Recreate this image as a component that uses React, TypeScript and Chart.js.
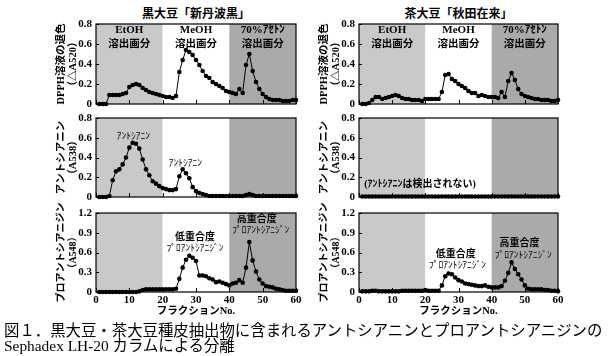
import React, { useEffect, useRef } from 'react';
import { Chart, registerables } from 'chart.js';

Chart.register(...registerables);

// ---------------- data ----------------
const FRACTIONS = [
  1, 2, 3, 4, 5, 6, 7, 8, 9, 10, 11, 12, 13, 14, 15, 16, 17, 18, 19, 20,
  21, 22, 23, 24, 25, 26, 27, 28, 29, 30, 31, 32, 33, 34, 35, 36, 37, 38, 39, 40,
  41, 42, 43, 44, 45, 46, 47, 48, 49, 50, 51, 52, 53, 54, 55, 56, 57, 58, 59, 60,
];
const X_TICKS = [0, 10, 20, 30, 40, 50, 60];
const Y_TICKS_DPPH = [0, 0.2, 0.4, 0.6, 0.8];
const Y_TICKS_ANTHO = [0, 0.2, 0.4, 0.6, 0.8];
const Y_TICKS_PRO = [0, 0.3, 0.6, 0.9, 1.2];
const ZONE_BOUNDS = [0, 20, 40, 60];

const COLUMN_TITLES = ['黒大豆「新丹波黒」', '茶大豆「秋田在来」'];
const ZONE_NAMES = ['EtOH', 'MeOH', '70%ｱｾﾄﾝ'];
const ZONE_SUFFIX = '溶出画分';
const Y_TITLE_DPPH = ['DPPH溶液の退色', '（△A520）'];
const Y_TITLE_ANTHO = ['アントシアニン', '（A538）'];
const Y_TITLE_PRO = ['プロアントシアニジン', '（A548）'];
const X_TITLE = 'フラクションNo.';
const CAPTION = [
  '図１．黒大豆・茶大豆種皮抽出物に含まれるアントシアニンとプロアントシアニジンの',
  'Sephadex LH-20 カラムによる分離',
];

const dpphBlack = [
  0, 0, 0, 0.09, 0.09, 0.09, 0.09, 0.1, 0.11, 0.17, 0.19, 0.2, 0.19, 0.16, 0.14, 0.12, 0.11, 0.1, 0.09, 0.08,
  0.07, 0.07, 0.06, 0.08, 0.32, 0.44, 0.54, 0.52, 0.49, 0.44, 0.39, 0.33, 0.28, 0.26, 0.22, 0.2, 0.18, 0.16, 0.13, 0.12,
  0.11, 0.1, 0.15, 0.11, 0.39, 0.5, 0.33, 0.22, 0.15, 0.1, 0.07, 0.05, 0.04, 0.04, 0.04, 0.03, 0.03, 0.03, 0.04, 0.04,
];
const dpphBrown = [
  0, 0, 0.01, 0.04, 0.07, 0.07, 0.05, 0.06, 0.07, 0.08, 0.09, 0.08, 0.06, 0.05, 0.05, 0.04, 0.04, 0.04, 0.03, 0.05,
  0.05, 0.05, 0.05, 0.05, 0.12, 0.29, 0.3, 0.25, 0.23, 0.2, 0.18, 0.16, 0.13, 0.11, 0.11, 0.08, 0.09, 0.08, 0.07, 0.07,
  0.07, 0.06, 0.12, 0.07, 0.23, 0.31, 0.24, 0.15, 0.1, 0.08, 0.07, 0.06, 0.05, 0.05, 0.04, 0.04, 0.04, 0.03, 0.03, 0.04,
];
const anthoBlack = [
  0, 0, 0, 0.01, 0.17, 0.26, 0.28, 0.33, 0.4, 0.5, 0.55, 0.54, 0.49, 0.38, 0.28, 0.22, 0.16, 0.135, 0.11, 0.09,
  0.08, 0.07, 0.07, 0.08, 0.21, 0.28, 0.24, 0.19, 0.1, 0.06, 0.04, 0.03, 0.02, 0.01, 0.01, 0.01, 0.01, 0.01, 0.01, 0.01,
  0.01, 0.01, 0.01, 0.01, 0.02, 0.03, 0.02, 0.01, 0.01, 0.01, 0.01, 0.01, 0.01, 0.01, 0.01, 0.01, 0.01, 0.01, 0.01, 0.01,
];
const anthoBrown = [
  0.005, 0.005, 0.005, 0.005, 0.005, 0.005, 0.005, 0.005, 0.005, 0.005, 0.005, 0.005, 0.005, 0.005, 0.005, 0.005, 0.005, 0.005, 0.005, 0.005,
  0.005, 0.005, 0.005, 0.005, 0.005, 0.005, 0.005, 0.005, 0.005, 0.005, 0.005, 0.005, 0.005, 0.005, 0.005, 0.005, 0.005, 0.005, 0.005, 0.005,
  0.005, 0.005, 0.005, 0.005, 0.005, 0.005, 0.005, 0.005, 0.005, 0.005, 0.005, 0.005, 0.005, 0.005, 0.005, 0.005, 0.005, 0.005, 0.005, 0.005,
];
const proBlack = [
  0, 0, 0, 0, 0, 0, 0, 0, 0, 0, 0, 0, 0.01, 0.03, 0.04, 0.04, 0.04, 0.04, 0.04, 0.04,
  0.04, 0.04, 0.04, 0.05, 0.2, 0.37, 0.49, 0.55, 0.52, 0.47, 0.25, 0.25, 0.24, 0.21, 0.19, 0.15, 0.16, 0.14, 0.12, 0.1,
  0.13, 0.14, 0.18, 0.14, 0.37, 0.76, 0.48, 0.31, 0.19, 0.13, 0.09, 0.08, 0.07, 0.05, 0.04, 0.03, 0.02, 0.02, 0.02, 0.02,
];
const proBrown = [
  0.01, 0.01, 0.01, 0.02, 0.02, 0.01, 0.01, 0.01, 0.01, 0.01, 0.01, 0.01, 0.02, 0.02, 0.02, 0.02, 0.02, 0.02, 0.02, 0.03,
  0.02, 0.02, 0.02, 0.02, 0.1, 0.24, 0.28, 0.27, 0.22, 0.18, 0.16, 0.13, 0.12, 0.11, 0.1, 0.09, 0.09, 0.1, 0.08, 0.07,
  0.07, 0.07, 0.09, 0.17, 0.29, 0.45, 0.35, 0.27, 0.19, 0.1, 0.05, 0.04, 0.04, 0.04, 0.04, 0.03, 0.03, 0.02, 0.02, 0.01,
];

// ---------------- styles / layout ----------------
const SERIF = "'Liberation Serif', 'Noto Sans CJK JP', serif";
const CJK = "'Noto Sans CJK JP', 'Liberation Serif', sans-serif";
const ZONE_COLORS = ['#c9c9c9', '#ffffff', '#aaaaaa'];
const COL_PLOT = [
  { left: 96, right: 296, x0: 0, w: 310 },
  { left: 359, right: 558, x0: 300, w: 309 },
];
const ROW_PLOT = [
  { top: 24, bottom: 104 },
  { top: 118, bottom: 197 },
  { top: 213, bottom: 292 },
];
const Y_TITLE_SIZE = [10.5, 10.5, 10];
const PAD_TOP = 12;

type Ann = { x: number; y: number; text: string; font: string };

const zoneAnns: Ann[] = [];
ZONE_NAMES.forEach((n, i) => {
  const cx = (ZONE_BOUNDS[i] + ZONE_BOUNDS[i + 1]) / 2;
  zoneAnns.push({ x: cx, y: 0.74, text: n, font: `bold 11px ${SERIF}` });
  zoneAnns.push({ x: cx, y: 0.6, text: ZONE_SUFFIX, font: `bold 10.5px ${SERIF}` });
});

const KANA_FONT = `9.5px ${CJK}`;
const LABEL_FONT = `bold 10px ${SERIF}`;

type Spec = {
  row: number;
  col: number;
  values: number[];
  yTicks: number[];
  yTitle: string[];
  anns: Ann[];
};

const SPECS: Spec[] = [
  { row: 0, col: 0, values: dpphBlack, yTicks: Y_TICKS_DPPH, yTitle: Y_TITLE_DPPH, anns: zoneAnns },
  { row: 0, col: 1, values: dpphBrown, yTicks: Y_TICKS_DPPH, yTitle: Y_TITLE_DPPH, anns: zoneAnns },
  {
    row: 1, col: 0, values: anthoBlack, yTicks: Y_TICKS_ANTHO, yTitle: Y_TITLE_ANTHO,
    anns: [
      { x: 11.2, y: 0.625, text: 'ｱﾝﾄｼｱﾆﾝ', font: KANA_FONT },
      { x: 26.8, y: 0.35, text: 'ｱﾝﾄｼｱﾆﾝ', font: KANA_FONT },
    ],
  },
  {
    row: 1, col: 1, values: anthoBrown, yTicks: Y_TICKS_ANTHO, yTitle: Y_TITLE_ANTHO,
    anns: [{ x: 18.4, y: 0.125, text: '(ｱﾝﾄｼｱﾆﾝは検出されない)', font: `bold 10px ${SERIF}` }],
  },
  {
    row: 2, col: 0, values: proBlack, yTicks: Y_TICKS_PRO, yTitle: Y_TITLE_PRO,
    anns: [
      { x: 29.7, y: 0.83, text: '低重合度', font: LABEL_FONT },
      { x: 29.7, y: 0.675, text: 'ﾌﾟﾛｱﾝﾄｼｱﾆｼﾞﾝ', font: KANA_FONT },
      { x: 48.2, y: 1.1, text: '高重合度', font: LABEL_FONT },
      { x: 49.4, y: 0.952, text: 'ﾌﾟﾛｱﾝﾄｼｱﾆｼﾞﾝ', font: KANA_FONT },
    ],
  },
  {
    row: 2, col: 1, values: proBrown, yTicks: Y_TICKS_PRO, yTitle: Y_TITLE_PRO,
    anns: [
      { x: 29.2, y: 0.57, text: '低重合度', font: LABEL_FONT },
      { x: 29.7, y: 0.416, text: 'ﾌﾟﾛｱﾝﾄｼｱﾆｼﾞﾝ', font: KANA_FONT },
      { x: 48.4, y: 0.732, text: '高重合度', font: LABEL_FONT },
      { x: 49.5, y: 0.577, text: 'ﾌﾟﾛｱﾝﾄｼｱﾆｼﾞﾝ', font: KANA_FONT },
    ],
  },
];

function makePlugin(spec: Spec, showX: boolean) {
  return {
    id: 'panelDecor',
    beforeDatasetsDraw(chart: any) {
      const { ctx, chartArea: a, scales } = chart;
      const x = scales.x;
      const y = scales.y;
      ctx.save();
      for (let i = 0; i < ZONE_BOUNDS.length - 1; i++) {
        const x1 = x.getPixelForValue(ZONE_BOUNDS[i]);
        const x2 = x.getPixelForValue(ZONE_BOUNDS[i + 1]);
        ctx.fillStyle = ZONE_COLORS[i];
        ctx.fillRect(x1, a.top, x2 - x1, a.bottom - a.top);
      }
      ctx.fillStyle = '#000';
      ctx.textAlign = 'center';
      ctx.textBaseline = 'middle';
      spec.anns.forEach((an) => {
        ctx.font = an.font;
        ctx.fillText(an.text, x.getPixelForValue(an.x), y.getPixelForValue(an.y));
      });
      ctx.restore();
    },
    afterDraw(chart: any) {
      const { ctx, chartArea: a, scales } = chart;
      const x = scales.x;
      const y = scales.y;
      ctx.save();
      ctx.strokeStyle = '#000';
      ctx.lineWidth = 1.2;
      ctx.strokeRect(a.left, a.top, a.right - a.left, a.bottom - a.top);
      ctx.lineWidth = 1;
      ctx.beginPath();
      X_TICKS.forEach((t) => {
        const px = Math.round(x.getPixelForValue(t)) + 0.5;
        ctx.moveTo(px, a.bottom);
        ctx.lineTo(px, a.bottom - 4);
      });
      spec.yTicks.forEach((t) => {
        const py = Math.round(y.getPixelForValue(t)) + 0.5;
        ctx.moveTo(a.left, py);
        ctx.lineTo(a.left + 3, py);
      });
      ctx.stroke();
      // y title
      ctx.fillStyle = '#000';
      ctx.textAlign = 'center';
      ctx.textBaseline = 'middle';
      ctx.font = `bold ${Y_TITLE_SIZE[spec.row]}px ${SERIF}`;
      ctx.translate(a.left - 35, (a.top + a.bottom) / 2);
      ctx.rotate(-Math.PI / 2);
      spec.yTitle.forEach((line, i) => ctx.fillText(line, 0, i * 12));
      ctx.restore();
      if (showX) {
        ctx.save();
        ctx.fillStyle = '#000';
        ctx.textAlign = 'center';
        ctx.textBaseline = 'middle';
        ctx.font = `bold 10.5px ${SERIF}`;
        ctx.fillText(X_TITLE, (a.left + a.right) / 2, a.bottom + 19.5);
        ctx.restore();
      }
    },
  };
}

function Panel({ spec }: { spec: Spec }) {
  const ref = useRef<HTMLCanvasElement>(null);
  const col = COL_PLOT[spec.col];
  const row = ROW_PLOT[spec.row];
  const showX = spec.row === 2;
  const xH = showX ? 30 : 6;
  const w = col.w;
  const h = row.bottom - row.top + PAD_TOP + xH;
  const top = row.top - PAD_TOP;

  useEffect(() => {
    const yW = col.left - col.x0;
    const padRight = w - (col.right - col.x0);
    const chart = new Chart(ref.current as HTMLCanvasElement, {
      type: 'line',
      data: {
        datasets: [
          {
            data: FRACTIONS.map((f, i) => ({ x: f, y: spec.values[i] })),
            borderColor: '#000',
            borderWidth: 1,
            pointRadius: 2.3,
            pointBackgroundColor: '#000',
            pointBorderWidth: 0,
            tension: 0,
            clip: false as any,
          },
        ],
      },
      options: {
        animation: false,
        responsive: false,
        devicePixelRatio: 1,
        layout: { padding: { left: 0, right: padRight, top: PAD_TOP, bottom: 0 } },
        plugins: { legend: { display: false }, tooltip: { enabled: false } },
        scales: {
          x: {
            type: 'linear',
            min: 0,
            max: 60,
            grid: { display: false, drawTicks: false },
            border: { display: false },
            ticks: {
              display: showX,
              color: '#000',
              padding: 2,
              maxRotation: 0,
              autoSkip: false,
              font: { family: SERIF, size: 11, weight: 'bold' },
              callback: (v: any) => String(v),
            },
            afterBuildTicks: (s: any) => {
              s.ticks = X_TICKS.map((v) => ({ value: v }));
            },
            afterFit: (s: any) => {
              s.height = xH;
              s.paddingLeft = 0;
              s.paddingRight = 0;
            },
          },
          y: {
            type: 'linear',
            min: 0,
            max: spec.yTicks[spec.yTicks.length - 1],
            grid: { display: false, drawTicks: false },
            border: { display: false },
            ticks: {
              color: '#000',
              padding: 4,
              font: { family: SERIF, size: 11, weight: 'bold' },
              callback: (v: any) => (Number(v) === 0 ? '0' : Number(v).toFixed(1)),
            },
            afterBuildTicks: (s: any) => {
              s.ticks = spec.yTicks.map((v) => ({ value: v }));
            },
            afterFit: (s: any) => {
              s.width = yW;
              s.paddingTop = 0;
              s.paddingBottom = 0;
            },
          },
        },
      },
      plugins: [makePlugin(spec, showX)],
    } as any);
    return () => chart.destroy();
  }, []);

  return (
    <canvas
      ref={ref}
      width={w}
      height={h}
      style={{ position: 'absolute', left: col.x0, top, width: w, height: h }}
    />
  );
}

export default function App() {
  return (
    <div
      style={{
        position: 'fixed',
        left: 0,
        top: 0,
        width: 609,
        height: 356,
        background: '#fff',
        overflow: 'hidden',
      }}
    >
      {COLUMN_TITLES.map((t, i) => (
        <div
          key={t}
          style={{
            position: 'absolute',
            left: COL_PLOT[i].left,
            width: COL_PLOT[i].right - COL_PLOT[i].left,
            top: 5,
            lineHeight: '18px',
            textAlign: 'center',
            fontFamily: SERIF,
            fontWeight: 'bold',
            fontSize: 12,
            color: '#000',
            whiteSpace: 'nowrap',
          }}
        >
          {t}
        </div>
      ))}
      {SPECS.map((s, i) => (
        <Panel key={i} spec={s} />
      ))}
      <div
        style={{
          position: 'absolute',
          left: 4,
          top: 321,
          fontFamily: CJK,
          fontSize: 15.4,
          lineHeight: '16.5px',
          color: '#000',
          whiteSpace: 'nowrap',
        }}
      >
        <div>{CAPTION[0]}</div>
        <div style={{ fontFamily: SERIF }}>{CAPTION[1]}</div>
      </div>
    </div>
  );
}
